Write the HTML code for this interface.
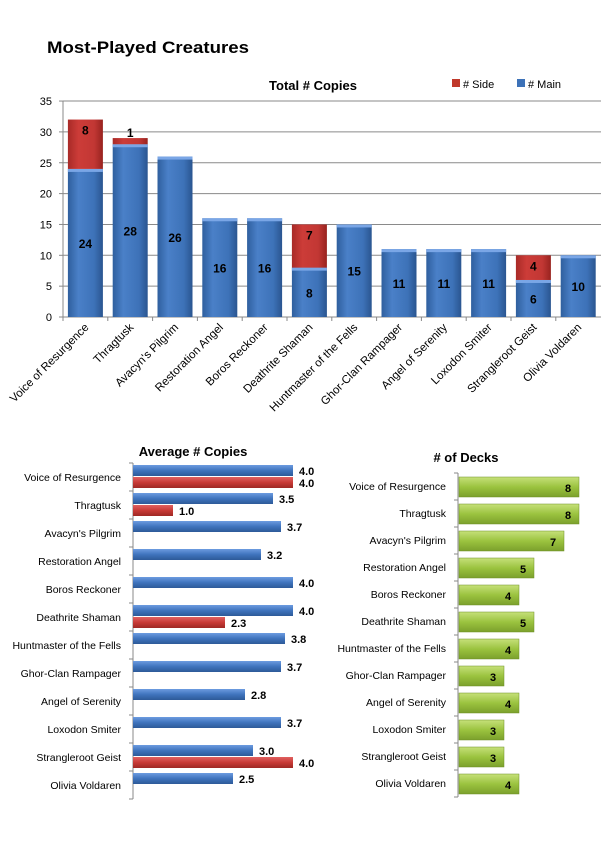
<!DOCTYPE html>
<html><head><meta charset="utf-8"><style>
body{margin:0;background:#fff}
svg{display:block;font-family:"Liberation Sans",sans-serif}
</style></head><body>
<svg id="s" width="603" height="843" xmlns="http://www.w3.org/2000/svg">
<defs>
<linearGradient id="gb" x1="0" x2="1" y1="0" y2="0"><stop offset="0" stop-color="#2f5f9e"/><stop offset="0.3" stop-color="#4a80c8"/><stop offset="0.75" stop-color="#3d72b8"/><stop offset="1" stop-color="#2a5590"/></linearGradient>
<linearGradient id="gr" x1="0" x2="1" y1="0" y2="0"><stop offset="0" stop-color="#a82a27"/><stop offset="0.3" stop-color="#cc3c38"/><stop offset="0.75" stop-color="#c23734"/><stop offset="1" stop-color="#98231f"/></linearGradient>
<linearGradient id="hb" x1="0" x2="0" y1="0" y2="1"><stop offset="0" stop-color="#6c9be0"/><stop offset="0.5" stop-color="#3f74bd"/><stop offset="1" stop-color="#2d5a98"/></linearGradient>
<linearGradient id="hr" x1="0" x2="0" y1="0" y2="1"><stop offset="0" stop-color="#e06060"/><stop offset="0.5" stop-color="#c83a36"/><stop offset="1" stop-color="#9e2824"/></linearGradient>
<linearGradient id="hg" x1="0" x2="0" y1="0" y2="1"><stop offset="0" stop-color="#c6e07a"/><stop offset="0.5" stop-color="#9bc33f"/><stop offset="1" stop-color="#7ba02c"/></linearGradient>
</defs>
<text x="47" y="53" font-size="17" font-weight="bold" textLength="202" lengthAdjust="spacingAndGlyphs">Most-Played  Creatures</text>
<text x="313" y="90" font-size="13" font-weight="bold" text-anchor="middle">Total # Copies</text>
<rect x="452" y="79" width="8" height="8" fill="#c0392b"/><text x="463" y="88" font-size="11">#  Side</text>
<rect x="517" y="79" width="8" height="8" fill="#3d72b8"/><text x="528" y="88" font-size="11"># Main</text>
<g id="g"></g>
</svg>
<script>
var g=document.getElementById('g'),h='';
var names=["Voice of Resurgence","Thragtusk","Avacyn's Pilgrim","Restoration Angel","Boros Reckoner","Deathrite Shaman","Huntmaster of the Fells","Ghor-Clan Rampager","Angel of Serenity","Loxodon Smiter","Strangleroot Geist","Olivia Voldaren"];
var main=[24,28,26,16,16,8,15,11,11,11,6,10],side=[8,1,0,0,0,7,0,0,0,0,4,0];
var y0=317,k=6.17,x0=63,cw=44.8;
for(var i=0;i<=7;i++){var y=y0-i*5*k;h+='<line x1="'+x0+'" x2="601" y1="'+y+'" y2="'+y+'" stroke="#8a8a8a" stroke-width="1"/><line x1="59" x2="63" y1="'+y+'" y2="'+y+'" stroke="#888"/><text x="52" y="'+(y+4)+'" font-size="11" text-anchor="end">'+(i*5)+'</text>';}
h+='<line x1="63" x2="63" y1="101" y2="317" stroke="#888"/>';
for(i=0;i<12;i++){var cx=x0+cw*i+cw/2,bx=cx-17.5,bw=35;
h+='<line x1="'+(x0+cw*i)+'" x2="'+(x0+cw*i)+'" y1="317" y2="321" stroke="#888"/>';
var ym=y0-main[i]*k;h+='<rect x="'+bx+'" y="'+ym+'" width="'+bw+'" height="'+(main[i]*k)+'" fill="url(#gb)"/><rect x="'+bx+'" y="'+ym+'" width="'+bw+'" height="3" fill="#7aa6e6"/>';
h+='<text x="'+cx+'" y="'+(y0-main[i]*k/2+5)+'" font-size="12" font-weight="bold" text-anchor="middle">'+main[i]+'</text>';
if(side[i]){var ys=ym-side[i]*k;h+='<rect x="'+bx+'" y="'+ys+'" width="'+bw+'" height="'+(side[i]*k)+'" fill="url(#gr)"/><text x="'+cx+'" y="'+(side[i]>2?ys+15:ys-1)+'" font-size="12" font-weight="bold" text-anchor="middle">'+side[i]+'</text>';}
h+='<text transform="translate('+(cx+4)+',328) rotate(-45)" font-size="11.5" text-anchor="end">'+names[i]+'</text>';}
var ab=[4.0,3.5,3.7,3.2,4.0,4.0,3.8,3.7,2.8,3.7,3.0,2.5],ar=[4.0,1.0,0,0,0,2.3,0,0,0,0,4.0,0];
h+='<text x="193" y="456" font-size="13" font-weight="bold" text-anchor="middle">Average # Copies</text>';
var ax=133,tp=463,rh=28;h+='<line x1="'+ax+'" x2="'+ax+'" y1="'+tp+'" y2="'+(tp+12*rh)+'" stroke="#888"/>';
for(i=0;i<12;i++){var t=tp+i*rh;h+='<line x1="129" x2="133" y1="'+t+'" y2="'+t+'" stroke="#888"/>';
h+='<text x="121" y="'+(t+18)+'" font-size="10.5" text-anchor="end">'+names[i]+'</text>';
var by=t+2;h+='<rect x="'+ax+'" y="'+by+'" width="'+ab[i]*40+'" height="11" fill="url(#hb)"/><text x="'+(ax+ab[i]*40+6)+'" y="'+(by+10)+'" font-size="11" font-weight="bold">'+ab[i].toFixed(1)+'</text>';
if(ar[i]){by=t+14;h+='<rect x="'+ax+'" y="'+by+'" width="'+ar[i]*40+'" height="11" fill="url(#hr)"/><text x="'+(ax+ar[i]*40+6)+'" y="'+(by+10)+'" font-size="11" font-weight="bold">'+ar[i].toFixed(1)+'</text>';}}
h+='<line x1="129" x2="133" y1="'+(tp+12*rh)+'" y2="'+(tp+12*rh)+'" stroke="#888"/>';
var dk=[8,8,7,5,4,5,4,3,4,3,3,4];
h+='<text x="466" y="462" font-size="13" font-weight="bold" text-anchor="middle"># of Decks</text>';
var dx=458,dt=473,dr=27;h+='<line x1="'+dx+'" x2="'+dx+'" y1="'+dt+'" y2="'+(dt+12*dr)+'" stroke="#888"/>';
for(i=0;i<12;i++){var t=dt+i*dr;h+='<line x1="454" x2="458" y1="'+t+'" y2="'+t+'" stroke="#888"/>';
h+='<text x="446" y="'+(t+17)+'" font-size="10.5" text-anchor="end">'+names[i]+'</text>';
var w=dk[i]*15;h+='<rect x="'+(dx+1)+'" y="'+(t+4)+'" width="'+w+'" height="20" fill="url(#hg)" stroke="#6d8f25" stroke-width="0.5"/><text x="'+(dx+w-10)+'" y="'+(t+19)+'" font-size="11" font-weight="bold" text-anchor="middle">'+dk[i]+'</text>';}
h+='<line x1="454" x2="458" y1="'+(dt+12*dr)+'" y2="'+(dt+12*dr)+'" stroke="#888"/>';
g.innerHTML=h;
</script>
</body></html>
